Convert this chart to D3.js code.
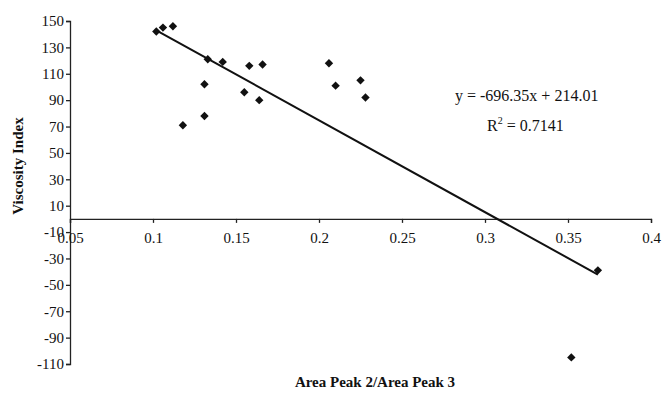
<!DOCTYPE html>
<html>
<head>
<meta charset="utf-8">
<script src="https://cdn.jsdelivr.net/npm/d3@7/dist/d3.min.js"></script>
<style>
  html, body { margin: 0; padding: 0; background: #fff; }
  svg { display: block; font-family: "Liberation Serif", "Times New Roman", serif; }
</style>
</head>
<body>
<svg id="chart" width="665" height="399"></svg>
<script>
// Area ratio (peak 2 / peak 3) against viscosity index
const ratio = [0.102, 0.106, 0.112, 0.118, 0.131, 0.131, 0.133, 0.142, 0.155,
               0.158, 0.164, 0.166, 0.206, 0.210, 0.225, 0.228, 0.352, 0.368];
const viscosityIndex = [142, 145, 146, 71, 78, 102, 121, 119, 96,
                        116, 90, 117, 118, 101, 105, 92, -105, -39];

// Linear trend line
const slope = -696.35;
const intercept = 214.01;
const rSquared = 0.7141;

const xTicks = [0.05, 0.1, 0.15, 0.2, 0.25, 0.3, 0.35, 0.4];
const yTicks = [150, 130, 110, 90, 70, 50, 30, 10, -10, -30, -50, -70, -90, -110];

const svg = d3.select("#chart");

const x = d3.scaleLinear().domain([0.05, 0.4]).range([70, 651]);
const y = d3.scaleLinear().domain([-110, 150]).range([364, 21]);

const axisColor = "#222";

// Vertical axis (plain hyphen for negatives)
const yAxis = svg.append("g")
  .attr("transform", `translate(${x(0.05)},0)`)
  .call(d3.axisLeft(y).tickValues(yTicks).tickSize(4).tickSizeOuter(4)
    .tickFormat(d => String(d)));
yAxis.select(".domain").attr("stroke", axisColor).attr("stroke-width", 1.3);
yAxis.selectAll(".tick line").attr("stroke", axisColor).attr("stroke-width", 1.3);
yAxis.selectAll(".tick text")
  .attr("x", -6)
  .attr("fill", "#111")
  .style("font-size", "15px")
  .style("font-family", "Liberation Serif, serif");

// Horizontal axis crossing at zero
const xAxis = svg.append("g")
  .attr("transform", `translate(0,${y(0)})`)
  .call(d3.axisBottom(x).tickValues(xTicks).tickSize(4).tickSizeOuter(4)
    .tickFormat(d => String(+d.toFixed(2))));
xAxis.select(".domain").attr("stroke", axisColor).attr("stroke-width", 1.3);
xAxis.selectAll(".tick line").attr("stroke", axisColor).attr("stroke-width", 1.3);
xAxis.selectAll(".tick text")
  .attr("y", 13)
  .attr("fill", "#111")
  .style("font-size", "15px")
  .style("font-family", "Liberation Serif, serif");

// Trend line across the data range
const xMin = d3.min(ratio), xMax = d3.max(ratio);
svg.append("line")
  .attr("x1", x(xMin)).attr("y1", y(slope * xMin + intercept))
  .attr("x2", x(xMax)).attr("y2", y(slope * xMax + intercept))
  .attr("stroke", "#111")
  .attr("stroke-width", 2);

// Diamond markers
const pts = ratio.map((r, i) => ({ r, v: viscosityIndex[i] }));
svg.append("g").selectAll("path")
  .data(pts)
  .join("path")
  .attr("transform", d => `translate(${x(d.r)},${y(d.v)})`)
  .attr("d", "M0,-4.2L4.2,0L0,4.2L-4.2,0Z")
  .attr("fill", "#111");

// Axis titles
svg.append("text")
  .attr("transform", "translate(23,166) rotate(-90)")
  .attr("text-anchor", "middle")
  .style("font-weight", "bold")
  .style("font-size", "15px")
  .attr("fill", "#111")
  .text("Viscosity Index");

svg.append("text")
  .attr("x", 375).attr("y", 387)
  .attr("text-anchor", "middle")
  .style("font-weight", "bold")
  .style("font-size", "15px")
  .attr("fill", "#111")
  .text("Area Peak 2/Area Peak 3");

// Trend equation and fit quality
svg.append("text")
  .attr("x", 455).attr("y", 101)
  .style("font-size", "16px")
  .attr("fill", "#111")
  .text(`y = ${slope}x + ${intercept.toFixed(2)}`);

const r2 = svg.append("text")
  .attr("x", 487).attr("y", 131)
  .style("font-size", "16px")
  .attr("fill", "#111");
r2.append("tspan").text("R");
r2.append("tspan").attr("dy", -7).style("font-size", "10px").text("2");
r2.append("tspan").attr("dy", 7).text(` = ${rSquared}`);
</script>
</body>
</html>
